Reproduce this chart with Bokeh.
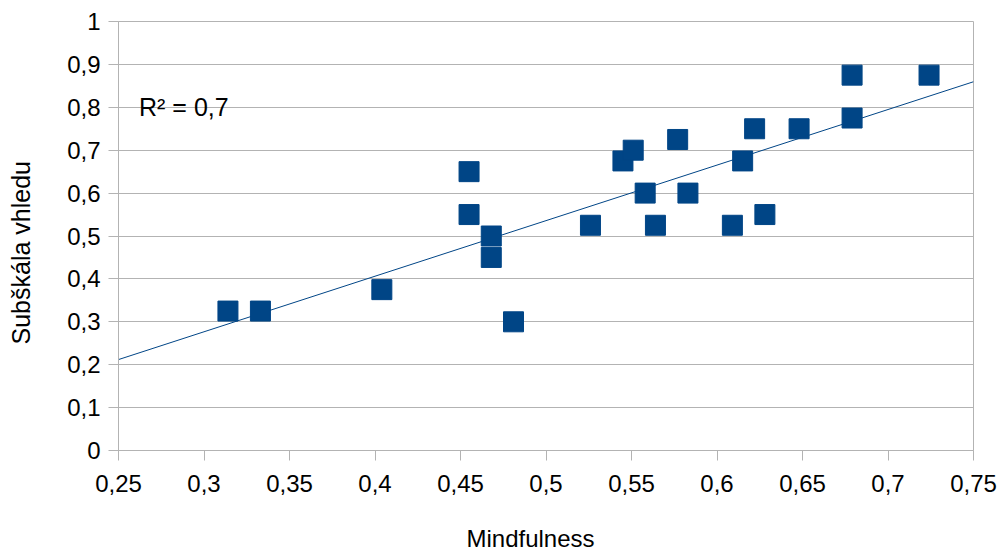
import numpy as np
from bokeh.plotting import figure
from bokeh.models import FixedTicker, CustomJSTickFormatter, Label, Range1d, Title
from bokeh.embed import file_html
from bokeh.resources import INLINE

mindfulness = [0.314, 0.333, 0.404, 0.455, 0.455, 0.468, 0.468, 0.481, 0.526,
               0.545, 0.551, 0.558, 0.564, 0.577, 0.583, 0.609, 0.615, 0.622,
               0.628, 0.648, 0.679, 0.679, 0.724]
subskala = [0.325, 0.325, 0.375, 0.65, 0.55, 0.5, 0.45, 0.3, 0.525,
            0.675, 0.7, 0.6, 0.525, 0.725, 0.6, 0.525, 0.675, 0.75,
            0.55, 0.75, 0.775, 0.875, 0.875]
x_ticks = [0.25, 0.3, 0.35, 0.4, 0.45, 0.5, 0.55, 0.6, 0.65, 0.7, 0.75]
y_ticks = [0, 0.1, 0.2, 0.3, 0.4, 0.5, 0.6, 0.7, 0.8, 0.9, 1.0]
r2_text = "R² = 0,7"
x_title = "Mindfulness"
y_title = "Subškála vhledu"

FONT = "Liberation Sans"
BLUE = "#004586"
GRID = "#b3b3b3"

p = figure(width=1003, height=551, output_backend="svg", toolbar_location=None,
           x_range=Range1d(0.25, 0.75), y_range=Range1d(0, 1),
           min_border_left=118, min_border_right=30, min_border_top=21,
           min_border_bottom=101)
p.background_fill_color = "white"
p.border_fill_color = "white"
p.outline_line_color = GRID

# trend line from data
slope, intercept = np.polyfit(mindfulness, subskala, 1)
lx = np.array([0.25, 0.75])
p.line(lx, slope * lx + intercept, line_color=BLUE, line_width=1)

p.scatter(mindfulness, subskala, marker="square", size=20,
          fill_color=BLUE, line_color=BLUE)

fmt = CustomJSTickFormatter(code="""
    var s = Number(tick.toFixed(2)).toString();
    return s.replace('.', ',');
""")

for ax, ticks in ((p.xaxis[0], x_ticks), (p.yaxis[0], y_ticks)):
    ax.ticker = FixedTicker(ticks=ticks, minor_ticks=[])
    ax.formatter = fmt
    ax.axis_line_color = GRID
    ax.major_tick_line_color = GRID
    ax.major_tick_in = 0
    ax.major_tick_out = 10
    ax.minor_tick_line_color = None
    ax.major_label_text_font = FONT
    ax.major_label_text_font_size = "24px"
    ax.major_label_text_color = "black"
    # blank spacer label: pushes the title away from the tick labels
    ax.axis_label = " "
    ax.axis_label_text_font_size = "1px"

p.xaxis.major_label_standoff = 14
p.yaxis.major_label_standoff = 8
p.xaxis.axis_label_standoff = 24
p.yaxis.axis_label_standoff = 26

p.xgrid.grid_line_color = None
p.ygrid.grid_line_color = GRID
p.ygrid.grid_line_width = 1

p.add_layout(Label(x=0.262, y=0.8, text=r2_text, text_font=FONT,
                   text_font_size="25px", text_color="black",
                   text_baseline="middle", text_align="left"))

# axis titles as side titles (allow offset like the original)
p.add_layout(Title(text=x_title, align="left", offset=348, standoff=0,
                   text_font=FONT, text_font_size="24px",
                   text_font_style="normal", text_color="black"), "below")
p.add_layout(Title(text=y_title, align="left", offset=106, standoff=0,
                   text_font=FONT, text_font_size="25px",
                   text_font_style="normal", text_color="black"), "left")

open("out.html", "w").write(file_html(p, INLINE))
